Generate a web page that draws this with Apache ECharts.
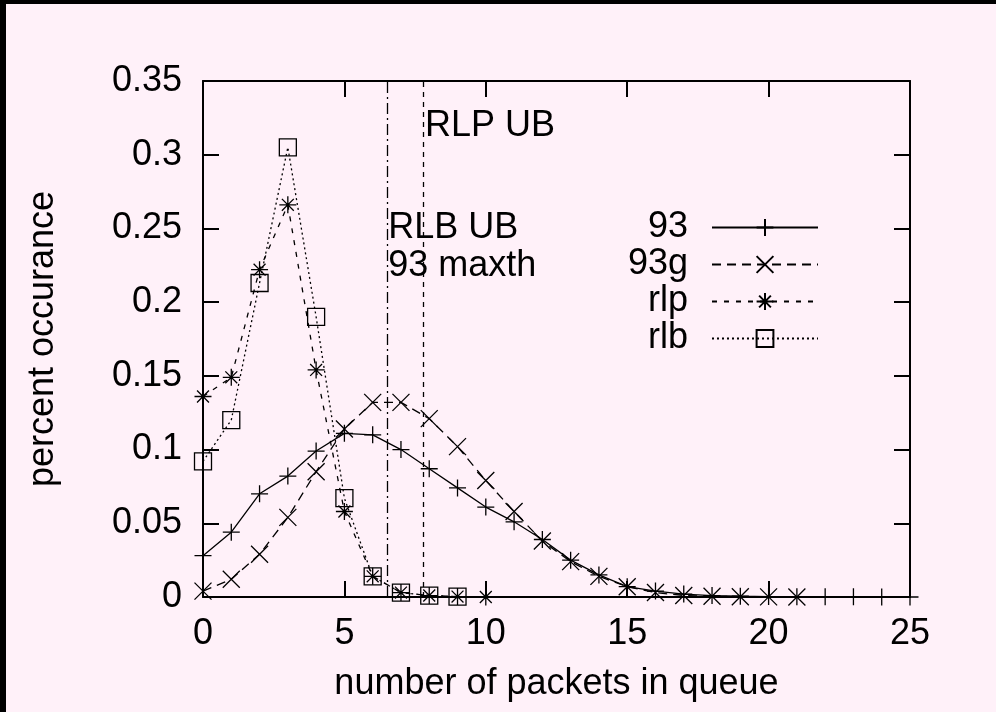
<!DOCTYPE html>
<html><head><meta charset="utf-8">
<script src="https://cdn.jsdelivr.net/npm/echarts@6/dist/echarts.min.js"></script>
<style>
html,body{margin:0;padding:0;background:#000;width:996px;height:712px;overflow:hidden}
#c{position:absolute;left:6px;top:4px;width:990px;height:708px;background:#fff1f9}
</style></head><body><div id="c"></div>
<script>
// ---- data ----
const seriesNames = ['93', '93g', 'rlp', 'rlb'];
const x93  = [0,1,2,3,4,5,6,7,8,9,10,11,12,13,14,15,16,17,18,19,20,21,22,23,24,25];
const y93  = [0.028,0.044,0.070,0.082,0.099,0.111,0.110,0.100,0.087,0.074,0.061,0.051,0.039,0.025,0.015,0.007,0.004,0.002,0.001,0.0005,0.0003,0.0002,0.0001,0.0001,0,0];
const x93g = [0,1,2,3,4,5,6,7,8,9,10,11,12,13,14,15,16,17,18,19,20,21];
const y93g = [0.004,0.012,0.029,0.054,0.085,0.114,0.132,0.132,0.121,0.102,0.079,0.058,0.038,0.024,0.014,0.007,0.003,0.001,0.0005,0.0002,0.0001,0];
const xRlp = [0,1,2,3,4,5,6,7,8,9,10];
const yRlp = [0.136,0.149,0.222,0.266,0.154,0.058,0.014,0.003,0.001,0.0003,0];
const xRlb = [0,1,2,3,4,5,6,7,8,9];
const yRlb = [0.092,0.120,0.213,0.305,0.190,0.067,0.014,0.003,0.001,0.0003];
const vLineX = [6.5, 7.8];            // RLB UB / 93 maxth, RLP UB
const annotTexts = ['RLP UB', 'RLB UB', '93 maxth'];
const annotX = [7.85, 6.55, 6.55];
const annotY = [0.3195, 0.2503, 0.2246];
const xMin = 0, xMax = 25, xStep = 5;
const yMin = 0, yMax = 0.35, yStep = 0.05;
const xName = 'number of packets in queue';
const yName = 'percent occurance';

// ---- styles ----
const FONT = 'Liberation Sans, Arial, Helvetica, sans-serif';
const FS = 36;
const SYM = {
  plus:   'path://M10,0L10,20M0,10L20,10',
  cross:  'path://M0,0L20,20M0,20L20,0',
  star:   'path://M10,0L10,20M0,10L20,10M3,3L17,17M3,17L17,3',
  square: 'path://M0,0L20,0L20,20L0,20Z'
};
function pairs(xs, ys) { return xs.map((x, i) => [x, ys[i]]); }
function lineSeries(name, xs, ys, sym, dash) {
  return {
    name, type: 'line', data: pairs(xs, ys),
    symbol: sym, symbolSize: 17, showSymbol: true,
    lineStyle: { color: '#000', width: 1.3, type: dash },
    itemStyle: { color: 'rgba(0,0,0,0)', borderColor: '#000', borderWidth: 1.3 },
    emphasis: { disabled: true }, silent: true, clip: false
  };
}
function axisCommon(extra) {
  return Object.assign({
    type: 'value',
    axisLine: { show: true, onZero: false, lineStyle: { color: '#000', width: 2 } },
    axisTick: { show: true, inside: true, length: 16, lineStyle: { color: '#000', width: 2 } },
    splitLine: { show: false },
    axisLabel: { show: false }
  }, extra);
}

const chart = echarts.init(document.getElementById('c'), null, { renderer: 'canvas' });
const s93 = lineSeries(seriesNames[0], x93, y93, SYM.plus, 'solid');
s93.markLine = {
  silent: true, symbol: 'none', animation: false,
  label: { show: false },
  data: [
    { xAxis: vLineX[0], lineStyle: { color: '#000', width: 1.3, type: [11, 4, 2, 4] } },
    { xAxis: vLineX[1], lineStyle: { color: '#000', width: 1.3, type: [5, 5] } }
  ]
};
const option = {
  animation: false,
  backgroundColor: '#fff1f9',
  textStyle: { fontFamily: FONT, color: '#000' },
  grid: { left: 197, top: 77, right: 86, bottom: 115, containLabel: false },
  xAxis: [
    axisCommon({
      position: 'bottom', min: xMin, max: xMax, interval: xStep,
      axisLabel: { show: true, fontSize: FS, color: '#000', fontFamily: FONT, margin: 19 },
      name: xName, nameLocation: 'middle', nameGap: 69,
      nameTextStyle: { fontSize: FS, color: '#000', fontFamily: FONT }
    }),
    axisCommon({ position: 'top', min: xMin, max: xMax, interval: xStep })
  ],
  yAxis: [
    axisCommon({
      position: 'left', min: yMin, max: yMax, interval: yStep,
      axisLabel: { show: true, fontSize: FS, color: '#000', fontFamily: FONT, margin: 21 },
      name: yName, nameLocation: 'middle', nameGap: 142, nameRotate: 90,
      nameTextStyle: { fontSize: FS, color: '#000', fontFamily: FONT }
    }),
    axisCommon({ position: 'right', min: yMin, max: yMax, interval: yStep })
  ],
  legend: {
    orient: 'vertical', right: 177, top: 205, padding: 0,
    align: 'right', itemWidth: 106, itemHeight: 21, itemGap: 0,
    selectedMode: false,
    textStyle: { fontSize: FS, color: '#000', fontFamily: FONT, lineHeight: 37, padding: [0, 19, 0, 0] },
    data: seriesNames
  },
  series: [
    s93,
    lineSeries(seriesNames[1], x93g, y93g, SYM.cross, [9, 6]),
    lineSeries(seriesNames[2], xRlp, yRlp, SYM.star, [5, 7]),
    lineSeries(seriesNames[3], xRlb, yRlb, SYM.square, [2, 3])
  ]
};
chart.setOption(option);
const g = annotTexts.map((t, i) => {
  const p = chart.convertToPixel({ gridIndex: 0 }, [annotX[i], annotY[i]]);
  return {
    type: 'text', x: p[0], y: p[1], silent: true,
    style: { text: t, fontSize: FS, fontFamily: FONT, fill: '#000', align: 'left', verticalAlign: 'middle' }
  };
});
chart.setOption({ graphic: g });
</script></body></html>
